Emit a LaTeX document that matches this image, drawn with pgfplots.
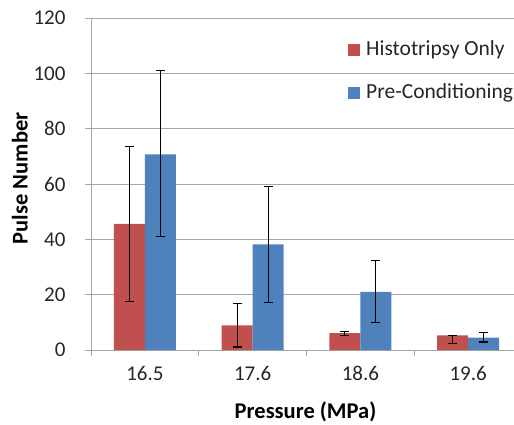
\documentclass[border=0pt]{standalone}
\usepackage{pgfplots}
\pgfplotsset{compat=1.18}
\usepackage{fontspec}
\setmainfont{Carlito}
\definecolor{exred}{HTML}{C0504D}
\definecolor{exblue}{HTML}{4F81BD}
\definecolor{gridgray}{HTML}{A6A6A6}
\begin{document}
\begin{tikzpicture}[x=1pt,y=1pt]
\begin{axis}[
  at={(91pt,74pt)}, anchor=south west,
  scale only axis, width=431pt, height=332pt,
  ybar=0pt, bar width=31pt,
  xmin=-0.5, xmax=3.5, ymin=0, ymax=120,
  ytick={0,20,...,120},
  xtick={-0.5,0.5,...,3.5},
  x tick label as interval,
  xticklabels={16.5,17.6,18.6,19.6},
  axis x line*=bottom, axis y line*=left,
  axis line style={gridgray, line width=0.8pt},
  tick align=outside, major tick length=6pt,
  tick style={gridgray, line width=0.8pt},
  ymajorgrids, grid style={gridgray, line width=0.8pt},
  /pgf/number format/assume math mode=true,
  ticklabel style={font=\fontsize{21}{23}\selectfont, text=black!85},
  yticklabel style={xshift=-16pt},
  xticklabel style={yshift=-7pt},
  every axis y label/.style={at={(axis description cs:-0.165,0.517)}, rotate=90, anchor=center, font=\fontsize{22.5}{24}\selectfont\bfseries},
  every axis x label/.style={at={(axis description cs:0.4977,-0.186)}, anchor=center, font=\fontsize{22.5}{24}\selectfont\bfseries},
  ylabel={Pulse Number},
  xlabel={Pressure (MPa)},
  legend style={at={(axis description cs:0.5963,0.934)}, anchor=north west, draw=none, fill=none, inner sep=0pt, row sep=23pt,
    nodes={font=\fontsize{21.5}{23}\selectfont, text=black!85, text height=15pt, text depth=5pt, inner sep=0pt}, legend cell align=left},
  legend image code/.code={\fill[#1] (0pt,-6pt) rectangle (12pt,6pt); \path (18pt,0pt);},
  error bars/y dir=both, error bars/y explicit,
  error bars/error bar style={black, line width=1.1pt},
  error bars/error mark options={black, line width=1.1pt, mark size=4.5pt, rotate=90},
]
\addplot[fill=exred, draw=none] coordinates {
  (0,45.6) += (0,28.1) -= (0,28.0)
  (1,8.9) += (0,7.8) -= (0,7.8)
  (2,6.1) += (0,0.5) -= (0,1.0)
  (3,5.3) += (0,0) -= (0,3.1)
};
\addplot[fill=exblue, draw=none] coordinates {
  (0,70.7) += (0,30.4) -= (0,29.8)
  (1,38.2) += (0,20.8) -= (0,21.1)
  (2,21.0) += (0,11.3) -= (0,11.1)
  (3,4.45) += (0,1.85) -= (0,1.55)
};
\legend{Histotripsy Only, Pre-Conditioning}
\end{axis}
\pgfresetboundingbox
\path[use as bounding box] (0,0) rectangle (514,424);
\end{tikzpicture}
\end{document}
